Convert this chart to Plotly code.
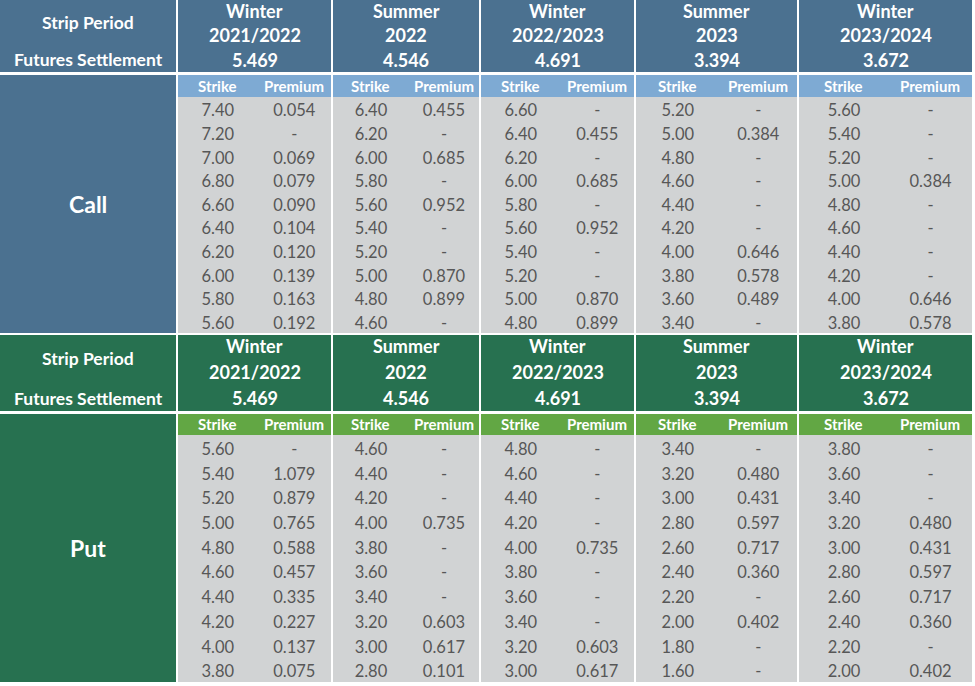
import plotly.graph_objects as go

# strip periods (header)
seasons = ["Winter", "Summer", "Winter", "Summer", "Winter"]
years = ["2021/2022", "2022", "2022/2023", "2023", "2023/2024"]
settlements = ["5.469", "4.546", "4.691", "3.394", "3.672"]

# call options, one list per strip period
call_strikes = [
    [7.40, 7.20, 7.00, 6.80, 6.60, 6.40, 6.20, 6.00, 5.80, 5.60],
    [6.40, 6.20, 6.00, 5.80, 5.60, 5.40, 5.20, 5.00, 4.80, 4.60],
    [6.60, 6.40, 6.20, 6.00, 5.80, 5.60, 5.40, 5.20, 5.00, 4.80],
    [5.20, 5.00, 4.80, 4.60, 4.40, 4.20, 4.00, 3.80, 3.60, 3.40],
    [5.60, 5.40, 5.20, 5.00, 4.80, 4.60, 4.40, 4.20, 4.00, 3.80],
]
call_premiums = [
    ["0.054", "-", "0.069", "0.079", "0.090", "0.104", "0.120", "0.139", "0.163", "0.192"],
    ["0.455", "-", "0.685", "-", "0.952", "-", "-", "0.870", "0.899", "-"],
    ["-", "0.455", "-", "0.685", "-", "0.952", "-", "-", "0.870", "0.899"],
    ["-", "0.384", "-", "-", "-", "-", "0.646", "0.578", "0.489", "-"],
    ["-", "-", "-", "0.384", "-", "-", "-", "-", "0.646", "0.578"],
]

# put options
put_strikes = [
    [5.60, 5.40, 5.20, 5.00, 4.80, 4.60, 4.40, 4.20, 4.00, 3.80],
    [4.60, 4.40, 4.20, 4.00, 3.80, 3.60, 3.40, 3.20, 3.00, 2.80],
    [4.80, 4.60, 4.40, 4.20, 4.00, 3.80, 3.60, 3.40, 3.20, 3.00],
    [3.40, 3.20, 3.00, 2.80, 2.60, 2.40, 2.20, 2.00, 1.80, 1.60],
    [3.80, 3.60, 3.40, 3.20, 3.00, 2.80, 2.60, 2.40, 2.20, 2.00],
]
put_premiums = [
    ["-", "1.079", "0.879", "0.765", "0.588", "0.457", "0.335", "0.227", "0.137", "0.075"],
    ["-", "-", "-", "0.735", "-", "-", "-", "0.603", "0.617", "0.101"],
    ["-", "-", "-", "-", "0.735", "-", "-", "-", "0.603", "0.617"],
    ["-", "0.480", "0.431", "0.597", "0.717", "0.360", "-", "0.402", "-", "-"],
    ["-", "-", "-", "0.480", "0.431", "0.597", "0.717", "0.360", "-", "0.402"],
]

W, H = 975, 686
FONT = "Lato"
TXT = "#575757"

# layout grid (pixels)
label_x = (0, 176)
col_x = [(178, 331), (333, 479), (481, 634), (636, 797), (799, 972)]

sections = [
    dict(name="Call", strikes=call_strikes, premiums=call_premiums,
         dark="#4b7190", light="#7eaad3",
         head=(0, 72), sub=(75, 97), body=(97, 333), block=(75, 333)),
    dict(name="Put", strikes=put_strikes, premiums=put_premiums,
         dark="#277150", light="#62a744",
         head=(335, 411), sub=(414, 435), body=(435, 682), block=(414, 682)),
]

fig = go.Figure()
shapes = []
ann = []


def rect(x0, x1, y0, y1, color):
    shapes.append(dict(type="rect", xref="x", yref="y", x0=x0, x1=x1, y0=y0, y1=y1,
                       fillcolor=color, line=dict(width=0), layer="below"))


def label(x, y, text, size, color="white", bold=True):
    ann.append(dict(x=x, y=y, xref="x", yref="y", text=f"<b>{text}</b>" if bold else text,
                    showarrow=False, font=dict(family=FONT, size=size, color=color),
                    xanchor="center", yanchor="middle"))


for s in sections:
    h0, h1 = s["head"]
    hh = h1 - h0
    # header row
    rect(*label_x, h0, h1, s["dark"])
    lx = sum(label_x) / 2
    label(lx, h0 + hh * 0.31, "Strip Period", 17.5)
    label(lx, h0 + hh * 0.83, "Futures Settlement", 17.5)
    for i, (a, b) in enumerate(col_x):
        rect(a, b, h0, h1, s["dark"])
        cx = (a + b) / 2
        label(cx, h0 + hh * 0.15, seasons[i], 18)
        label(cx, h0 + hh * 0.49, years[i], 18)
        label(cx, h0 + hh * 0.83, settlements[i], 18)

    # left block with section name
    b0, b1 = s["block"]
    rect(*label_x, b0, b1, s["dark"])
    label(lx, (b0 + b1) / 2, s["name"], 23)

    # sub header + body
    s0, s1 = s["sub"]
    d0, d1 = s["body"]
    xs, ys, texts = [], [], []
    for i, (a, b) in enumerate(col_x):
        rect(a, b, s0, s1, s["light"])
        rect(a, b, d0, d1, "#d1d3d4")
        w = b - a
        label(a + w * 0.26, (s0 + s1) / 2 - 0.5, "Strike", 15)
        label(a + w * 0.76, (s0 + s1) / 2 - 0.5, "Premium", 15)
        n = len(s["strikes"][i])
        rh = (d1 - d0) / n
        for r in range(n):
            # text sits a little below the row centre, as in the source
            y = d0 + rh * (r + 0.5) + 3.5
            xs += [a + w * 0.26, a + w * 0.76]
            ys += [y, y]
            texts += [f"{s['strikes'][i][r]:.2f}", s["premiums"][i][r]]
    fig.add_trace(go.Scatter(x=xs, y=ys, text=texts, mode="text", hoverinfo="skip",
                             textfont=dict(family=FONT, size=16.5, color=TXT),
                             textposition="middle center", showlegend=False))

fig.update_layout(
    width=W, height=H,
    margin=dict(l=0, r=0, t=0, b=0),
    paper_bgcolor="white", plot_bgcolor="white",
    shapes=shapes, annotations=ann,
    xaxis=dict(range=[0, W], visible=False, fixedrange=True),
    yaxis=dict(range=[H, 0], visible=False, fixedrange=True),
)

fig.write_html("out.html", config={"displayModeBar": False})

# drop the default page margin so the figure sits at the window's corner
with open("out.html", encoding="utf-8") as f:
    html = f.read()
html = html.replace("<body>", '<body style="margin:0">', 1)
with open("out.html", "w", encoding="utf-8") as f:
    f.write(html)
